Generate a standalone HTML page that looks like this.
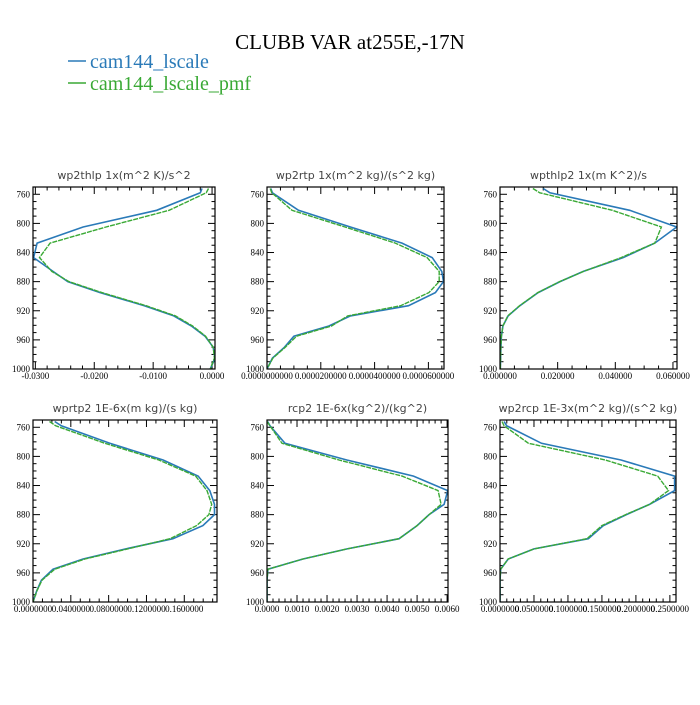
<!DOCTYPE html>
<html><head><meta charset="utf-8"><style>
body{margin:0;background:#fff;}
svg text{font-family:"Liberation Serif",serif;}
.pt{font-family:"DejaVu Sans",sans-serif;font-size:11px;fill:#444;}
.tk{font-size:9px;fill:#000;}
</style></head><body>
<svg id="chart" width="700" height="700" xmlns="http://www.w3.org/2000/svg">
<rect width="700" height="700" fill="#fff"/>
<text x="350" y="49" text-anchor="middle" font-size="21" fill="#000">CLUBB VAR at255E,-17N</text>
<g>
<line x1="68" y1="61" x2="86" y2="61" stroke="#2a7ab8" stroke-width="1.5"/>
<text x="90" y="68" font-size="20" fill="#2a7ab8">cam144_lscale</text>
<line x1="68" y1="83" x2="86" y2="83" stroke="#3aa935" stroke-width="1.5"/>
<text x="90" y="90" font-size="20" fill="#3aa935">cam144_lscale_pmf</text>
</g>
</svg>
<script>
const levels=[752,758,782,805,827,847,866,880,895,913,927,941,955,970,985,1000];
const yTicks=[760,800,840,880,920,960,1000];
const titles=["wp2thlp  1x(m^2 K)/s^2","wp2rtp  1x(m^2 kg)/(s^2 kg)","wpthlp2  1x(m K^2)/s","wprtp2  1E-6x(m kg)/(s kg)","rcp2  1E-6x(kg^2)/(kg^2)","wp2rcp  1E-3x(m^2 kg)/(s^2 kg)"];
const p1Blue=[-0.0017,-0.002,-0.0094,-0.0219,-0.0297,-0.0303,-0.027,-0.0245,-0.019,-0.0115,-0.0065,-0.0035,-0.0012,0.0002,0.0005,-0.0003];
const p1Green=[-0.0006,-0.001,-0.0073,-0.018,-0.0275,-0.0293,-0.0272,-0.0243,-0.0187,-0.0112,-0.0062,-0.0033,-0.0011,0.0002,0.0004,-0.0003];
const p2Blue=[0.0000014,0.000002,0.0000117,0.000031,0.0000502,0.0000614,0.000065,0.0000656,0.0000626,0.0000526,0.000031,0.000023,0.00001,0.0000065,0.000002,0];
const p2Green=[0.0000012,0.0000018,0.0000093,0.000029,0.0000477,0.0000595,0.000064,0.000064,0.0000602,0.0000497,0.00003,0.000024,0.000011,0.0000068,0.0000022,0];
const p3Blue=[0.015,0.0173,0.045,0.0613,0.0537,0.0427,0.0289,0.0208,0.0132,0.0069,0.0028,0.001,0.0005,0.0003,0.0002,0.0001];
const p3Green=[0.0114,0.0138,0.039,0.056,0.0537,0.042,0.029,0.0207,0.0131,0.0068,0.0027,0.001,0.0005,0.0003,0.0002,0.0001];
const p4Blue=[0.0229,0.0299,0.0812,0.1376,0.1747,0.187,0.192,0.192,0.1797,0.148,0.098,0.053,0.0212,0.0089,0.0038,0];
const p4Green=[0.0175,0.024,0.076,0.133,0.172,0.184,0.189,0.186,0.173,0.145,0.1,0.055,0.023,0.0095,0.004,0];
const p5Blue=[0.00002,0.0001,0.0006,0.00266,0.00488,0.00602,0.0059,0.0054,0.005,0.0044,0.00267,0.0012,0.00003,0,0,0];
const p5Green=[0,0.0001,0.0005,0.0024,0.0045,0.0057,0.0058,0.0054,0.005,0.0044,0.00267,0.0012,0.00003,0,0,0];
const p6Blue=[0.006,0.0098,0.061,0.178,0.257,0.257,0.22,0.186,0.152,0.13,0.05,0.012,0.001,0,0,0];
const p6Green=[0.003,0.006,0.042,0.155,0.232,0.248,0.22,0.185,0.15,0.128,0.05,0.012,0.001,0,0,0];
const p1Ticks=[-0.03,-0.02,-0.01,0], p1Labels=["-0.0300","-0.0200","-0.0100","0.0000"];
const p2Ticks=[0,0.00002,0.00004,0.00006], p2Labels=["0.0000000000","0.0000200000","0.0000400000","0.0000600000"];
const p3Ticks=[0,0.02,0.04,0.06], p3Labels=["0.000000","0.020000","0.040000","0.060000"];
const p4Ticks=[0,0.04,0.08,0.12,0.16], p4Labels=["0.0000000","0.0400000","0.0800000","0.1200000","0.1600000"];
const p5Ticks=[0,0.001,0.002,0.003,0.004,0.005,0.006], p5Labels=["0.0000","0.0010","0.0020","0.0030","0.0040","0.0050","0.0060"];
const p6Ticks=[0,0.05,0.1,0.15,0.2,0.25], p6Labels=["0.0000000","0.0500000","0.1000000","0.1500000","0.2000000","0.2500000"];

const panels=[
 {n:"wp2thlp",blue:p1Blue,green:p1Green,ticks:p1Ticks,labels:p1Labels,x0:33,x1:215,y0:187,y1:369,d0:-0.0304,d1:0.0005,minor:5},
 {n:"wp2rtp",blue:p2Blue,green:p2Green,ticks:p2Ticks,labels:p2Labels,x0:267,x1:444,y0:187,y1:369,d0:0,d1:0.0000658,minor:4},
 {n:"wpthlp2",blue:p3Blue,green:p3Green,ticks:p3Ticks,labels:p3Labels,x0:500,x1:677,y0:187,y1:369,d0:0,d1:0.0614,minor:4},
 {n:"wprtp2",blue:p4Blue,green:p4Green,ticks:p4Ticks,labels:p4Labels,x0:33,x1:217,y0:420,y1:602,d0:0,d1:0.1946,minor:4},
 {n:"rcp2",blue:p5Blue,green:p5Green,ticks:p5Ticks,labels:p5Labels,x0:267,x1:448,y0:420,y1:602,d0:0,d1:0.00603,minor:5},
 {n:"wp2rcp",blue:p6Blue,green:p6Green,ticks:p6Ticks,labels:p6Labels,x0:500,x1:676,y0:420,y1:602,d0:0,d1:0.259,minor:5}
];
const NS="http://www.w3.org/2000/svg";
const svg=document.getElementById('chart');
function mk(tag,attrs,parent){const e=document.createElementNS(NS,tag);for(const k in attrs)e.setAttribute(k,attrs[k]);parent.appendChild(e);return e;}
panels.forEach((p,i)=>{
 const g=mk('g',{},svg);
 
 
 const xs=v=>p.x0+(v-p.d0)/(p.d1-p.d0)*(p.x1-p.x0);
 const ys=v=>p.y0+(v-750)/250*(p.y1-p.y0);
 const t=mk('text',{x:(p.x0+p.x1)/2,y:p.y0-8,'text-anchor':'middle','class':'pt'},g);
 t.textContent=titles[i];
 
 
 for(let v=750;v<=1000;v+=10){
  const major=(v-760)%40===0&&v>=760;const L=major?7:3.5;const y=ys(v);
  mk('line',{x1:p.x0,x2:p.x0+L,y1:y,y2:y,stroke:'#000','stroke-width':1},g);
  mk('line',{x1:p.x1,x2:p.x1-L,y1:y,y2:y,stroke:'#000','stroke-width':1},g);
 }
 yTicks.forEach(v=>{const tl=mk('text',{x:p.x0-3,y:ys(v)+3,'text-anchor':'end','class':'tk'},g);tl.textContent=v;
  
  });
 const step=p.ticks[1]-p.ticks[0];
 for(let k=-p.minor*2;k<=p.minor*(p.ticks.length+2);k++){
  const v=p.ticks[0]+k*step/p.minor;const x=xs(v);
  if(x<p.x0-0.5||x>p.x1+0.5)continue;
  const L=(k%p.minor===0)?7:3.5;
  mk('line',{x1:x,x2:x,y1:p.y1,y2:p.y1-L,stroke:'#000','stroke-width':1},g);
  mk('line',{x1:x,x2:x,y1:p.y0,y2:p.y0+L,stroke:'#000','stroke-width':1},g);
 }
 p.ticks.forEach((v,j)=>{const tl=mk('text',{x:xs(v),y:p.y1+10,'text-anchor':'middle','class':'tk'},g);tl.textContent=p.labels[j];
  
  });
 const clipId='c'+i;
 const cp=mk('clipPath',{id:clipId},g);mk('rect',{x:p.x0,y:p.y0,width:p.x1-p.x0,height:p.y1-p.y0},cp);
 const pts=a=>a.map((v,j)=>xs(v).toFixed(1)+','+ys(levels[j]).toFixed(1)).join(' ');
 const lb=mk('polyline',{points:pts(p.blue),fill:'none',stroke:'#2a7ab8','stroke-width':1.6,'clip-path':'url(#'+clipId+')'},g);
 
 
 const lg=mk('polyline',{points:pts(p.green),fill:'none',stroke:'#3aa935','stroke-width':1.4,'stroke-dasharray':'5,1','clip-path':'url(#'+clipId+')'},g);
 
 
 const fr=mk('rect',{x:p.x0,y:p.y0,width:p.x1-p.x0,height:p.y1-p.y0,fill:'none',stroke:'#000','stroke-width':1.2},g);
 
 
});
</script>
</body></html>
